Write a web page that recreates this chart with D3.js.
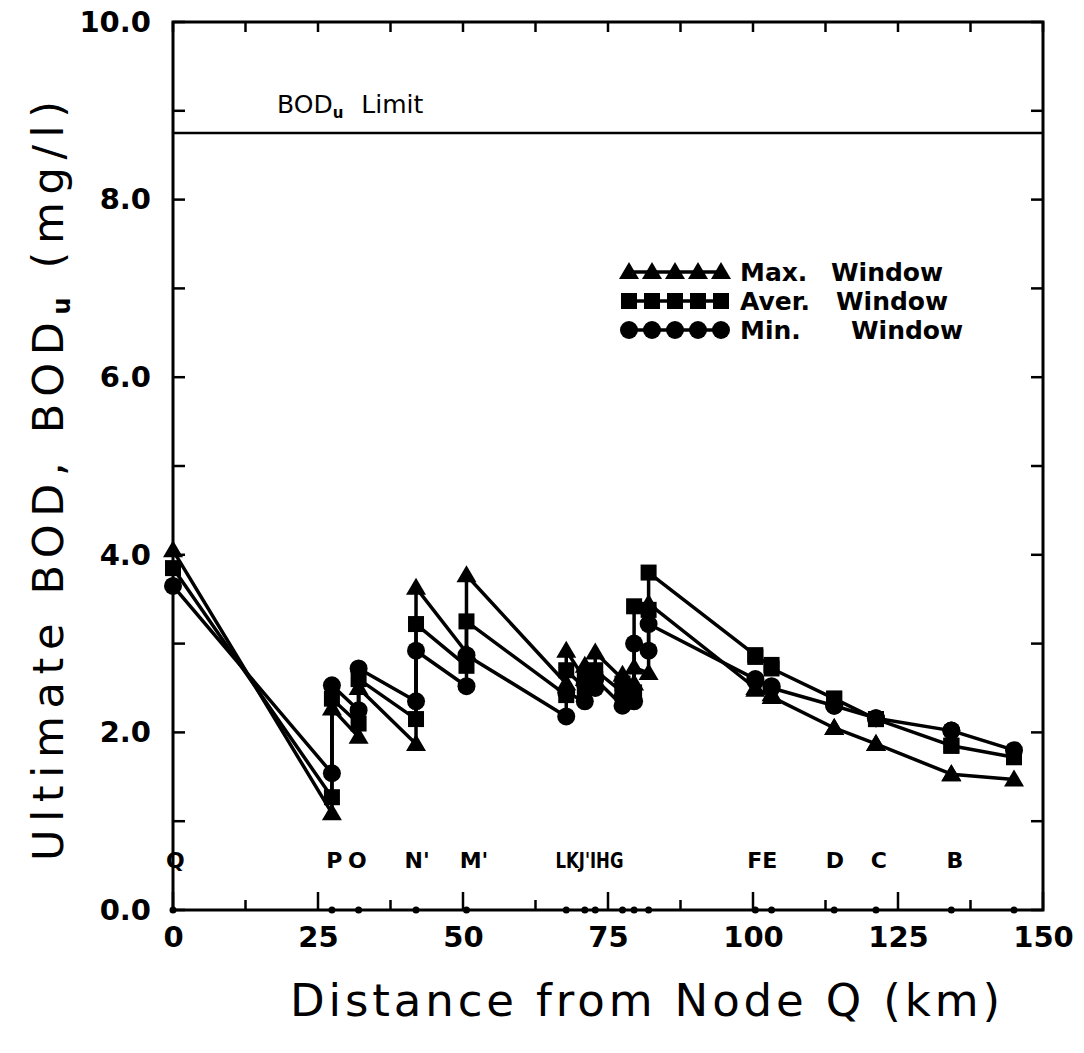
<!DOCTYPE html>
<html>
<head>
<meta charset="utf-8">
<script src="https://cdnjs.cloudflare.com/ajax/libs/d3/7.8.5/d3.min.js"></script>
<style>
  body { margin: 0; background: #fff; }
  svg { display: block; }
</style>
</head>
<body>
<svg id="chart" width="1084" height="1053"></svg>
<script>
// nodes along the river (km from node Q)
const nodeNames = ["Q","P","O","N'","M'","L","K","J'","I","H","G","F","E","D","C","B"];
const nodeKm    = [0, 27.4, 32.0, 41.9, 50.6, 67.8, 71.0, 72.8, 77.5, 79.5, 82.0, 100.4, 103.2, 114.0, 121.2, 134.2];
const endKm = 145;
// node letters as written under the curves (crowded ones share one string)
const labelText = ["Q", "P", "O", "N'", "M'", "LKJ'IHG", "FE", "D", "C", "B"];
const labelKm   = [0.4, 27.8, 31.8, 42.1, 51.9, 71.8, 101.6, 114.1, 121.7, 134.8];

// value arriving at each node (upstream reach) and value just after the node
const maxIn  = [null, 1.09, 1.95, 1.87, 2.90, 2.55, 2.60, 2.70, 2.60, 2.55, 2.67, 2.50, 2.43, 2.05, 1.87, 1.53];
const maxOut = [4.05, 2.27, 2.50, 3.63, 3.77, 2.92, 2.75, 2.90, 2.65, 2.73, 3.45, 2.48, 2.40, 2.05, 1.87, 1.53];
const maxEnd = 1.47;
const avgIn  = [null, 1.27, 2.10, 2.15, 2.75, 2.42, 2.50, 2.60, 2.45, 2.45, 3.38, 2.87, 2.76, 2.38, 2.15, 1.85];
const avgOut = [3.85, 2.38, 2.60, 3.22, 3.25, 2.70, 2.65, 2.70, 2.55, 3.42, 3.80, 2.85, 2.72, 2.38, 2.15, 1.85];
const avgEnd = 1.72;
const minIn  = [null, 1.54, 2.25, 2.35, 2.52, 2.18, 2.35, 2.50, 2.30, 2.35, 2.92, 2.60, 2.52, 2.30, 2.16, 2.02];
const minOut = [3.65, 2.53, 2.72, 2.92, 2.87, 2.45, 2.55, 2.60, 2.40, 3.00, 3.22, 2.58, 2.50, 2.30, 2.16, 2.02];
const minEnd = 1.80;

const bodLimit = 8.75;
const xTicks = [0, 25, 50, 75, 100, 125, 150];
const yTicks = [0, 2, 4, 6, 8, 10];

const svg = d3.select("#chart");
const margin = { top: 22, right: 41, bottom: 143, left: 173 },
      iwidth = +svg.attr("width") - margin.left - margin.right,
      iheight = +svg.attr("height") - margin.top - margin.bottom;
const g = svg.append("g").attr("transform", "translate(" + margin.left + "," + margin.top + ")");

const x = d3.scaleLinear().domain([0, 150]).range([0, iwidth]);
const y = d3.scaleLinear().domain([0, 10]).range([iheight, 0]);

const tickFont = "'DejaVu Sans', sans-serif";

// frame
g.append("rect")
  .attr("width", iwidth).attr("height", iheight)
  .attr("fill", "none").attr("stroke", "#000").attr("stroke-width", 3);

// inward ticks
const minorX = d3.range(0, 150.01, 12.5);
g.append("g").selectAll("line").data(minorX).enter().append("line")
  .attr("x1", d => x(d)).attr("x2", d => x(d))
  .attr("y1", 0).attr("y2", 10)
  .attr("stroke", "#000").attr("stroke-width", 2.5);
g.append("g").selectAll("line").data(minorX).enter().append("line")
  .attr("x1", d => x(d)).attr("x2", d => x(d))
  .attr("y1", iheight).attr("y2", d => iheight - (d % 25 === 0 ? 18 : 10))
  .attr("stroke", "#000").attr("stroke-width", 2.5);
const minorY = d3.range(0, 10.01, 1);
g.append("g").selectAll("line").data(minorY).enter().append("line")
  .attr("x1", 0).attr("x2", 12)
  .attr("y1", d => y(d)).attr("y2", d => y(d))
  .attr("stroke", "#000").attr("stroke-width", 2.5);
g.append("g").selectAll("line").data(minorY).enter().append("line")
  .attr("x1", iwidth).attr("x2", iwidth - 12)
  .attr("y1", d => y(d)).attr("y2", d => y(d))
  .attr("stroke", "#000").attr("stroke-width", 2.5);

// tick labels through d3 axes (their own lines removed)
const xAxis = g.append("g")
  .attr("transform", "translate(0," + iheight + ")")
  .call(d3.axisBottom(x).tickValues(xTicks).tickSize(0).tickPadding(16).tickFormat(d3.format("d")));
const yAxis = g.append("g")
  .call(d3.axisLeft(y).tickValues(yTicks).tickSize(0).tickPadding(22).tickFormat(d3.format(".1f")));
[xAxis, yAxis].forEach(a => {
  a.select(".domain").remove();
  a.selectAll("text")
    .attr("font-family", tickFont)
    .attr("font-weight", "bold")
    .attr("font-size", 29)
    .attr("fill", "#000");
});

// BOD limit
g.append("line")
  .attr("x1", 0).attr("x2", iwidth)
  .attr("y1", y(bodLimit)).attr("y2", y(bodLimit))
  .attr("stroke", "#000").attr("stroke-width", 2.5);
const lim = g.append("text")
  .attr("x", 104).attr("y", y(bodLimit) - 20)
  .attr("font-family", tickFont).attr("font-size", 25).attr("fill", "#000");
lim.append("tspan").text("BOD");
lim.append("tspan").attr("font-size", 15).attr("font-weight", "bold").attr("dy", 5).text("u");
lim.append("tspan").attr("dy", -5).attr("dx", 18).text("Limit");

// build each polyline: arriving value then value after the node
function buildPoints(vin, vout, vend) {
  const pts = [];
  nodeKm.forEach((k, i) => {
    if (vin[i] !== null) pts.push([k, vin[i]]);
    pts.push([k, vout[i]]);
  });
  pts.push([endKm, vend]);
  return pts;
}
const series = [
  { name: "Max.", shape: "tri", pts: buildPoints(maxIn, maxOut, maxEnd) },
  { name: "Aver.", shape: "sq", pts: buildPoints(avgIn, avgOut, avgEnd) },
  { name: "Min.", shape: "circ", pts: buildPoints(minIn, minOut, minEnd) }
];

const line = d3.line().x(d => x(d[0])).y(d => y(d[1]));

function drawMarker(sel, shape) {
  if (shape === "tri") {
    sel.append("path").attr("d", "M0,-10 L10,7 L-10,7 Z").attr("fill", "#000");
  } else if (shape === "sq") {
    sel.append("rect").attr("x", -8).attr("y", -8).attr("width", 16).attr("height", 16).attr("fill", "#000");
  } else {
    sel.append("circle").attr("r", 9).attr("fill", "#000");
  }
}

series.forEach(s => {
  g.append("path")
    .datum(s.pts)
    .attr("d", line)
    .attr("fill", "none")
    .attr("stroke", "#000")
    .attr("stroke-width", 3.5)
    .attr("stroke-linejoin", "round");
  const m = g.append("g").selectAll("g").data(s.pts).enter().append("g")
    .attr("transform", d => "translate(" + x(d[0]) + "," + y(d[1]) + ")");
  drawMarker(m, s.shape);
});

// node dots on the bottom axis
g.append("g").selectAll("circle").data(nodeKm.concat([endKm])).enter().append("circle")
  .attr("cx", d => x(d)).attr("cy", iheight).attr("r", 3.5).attr("fill", "#000");

// node letters
g.append("g").selectAll("text").data(labelText).enter().append("text")
  .attr("x", (d, i) => x(labelKm[i]))
  .attr("y", iheight - 42)
  .attr("text-anchor", "middle")
  .attr("font-family", tickFont)
  .attr("font-weight", "bold")
  .attr("font-size", 22)
  .attr("fill", "#000")
  .attr("textLength", d => d.length > 2 ? 68 : null)
  .attr("lengthAdjust", "spacingAndGlyphs")
  .text(d => d);

// legend
const legend = g.append("g").attr("transform", "translate(456,250)");
const legRows = legend.selectAll("g").data(series).enter().append("g")
  .attr("transform", (d, i) => "translate(0," + i * 29 + ")");
legRows.append("line").attr("x1", 0).attr("x2", 92).attr("stroke", "#000").attr("stroke-width", 3.5);
legRows.each(function (s) {
  const row = d3.select(this);
  d3.range(5).forEach(j => {
    const mk = row.append("g").attr("transform", "translate(" + (j * 23) + ",0)");
    drawMarker(mk, s.shape);
  });
});
const legWordX = [[111, 202], [111, 207], [111, 222]];
legRows.append("text")
  .attr("x", (d, i) => legWordX[i][0]).attr("y", 9)
  .attr("font-family", tickFont).attr("font-weight", "bold").attr("font-size", 25)
  .text(d => d.name);
legRows.append("text")
  .attr("x", (d, i) => legWordX[i][1]).attr("y", 9)
  .attr("font-family", tickFont).attr("font-weight", "bold").attr("font-size", 25)
  .text("Window");

// axis titles
svg.append("text")
  .attr("x", 645).attr("y", 1016)
  .attr("text-anchor", "middle")
  .attr("font-family", tickFont).attr("font-size", 45)
  .attr("textLength", 710).attr("lengthAdjust", "spacing")
  .text("Distance from Node Q (km)");

const yt = svg.append("text")
  .attr("transform", "translate(63,481) rotate(-90)")
  .attr("text-anchor", "middle")
  .attr("font-family", tickFont).attr("font-size", 43)
  .attr("textLength", 760).attr("lengthAdjust", "spacing");
yt.append("tspan").text("Ultimate BOD, BOD");
yt.append("tspan").attr("font-size", 24).attr("font-weight", "bold").attr("dy", 7).text("u");
yt.append("tspan").attr("dy", -7).text(" (mg/l)");
</script>
</body>
</html>
